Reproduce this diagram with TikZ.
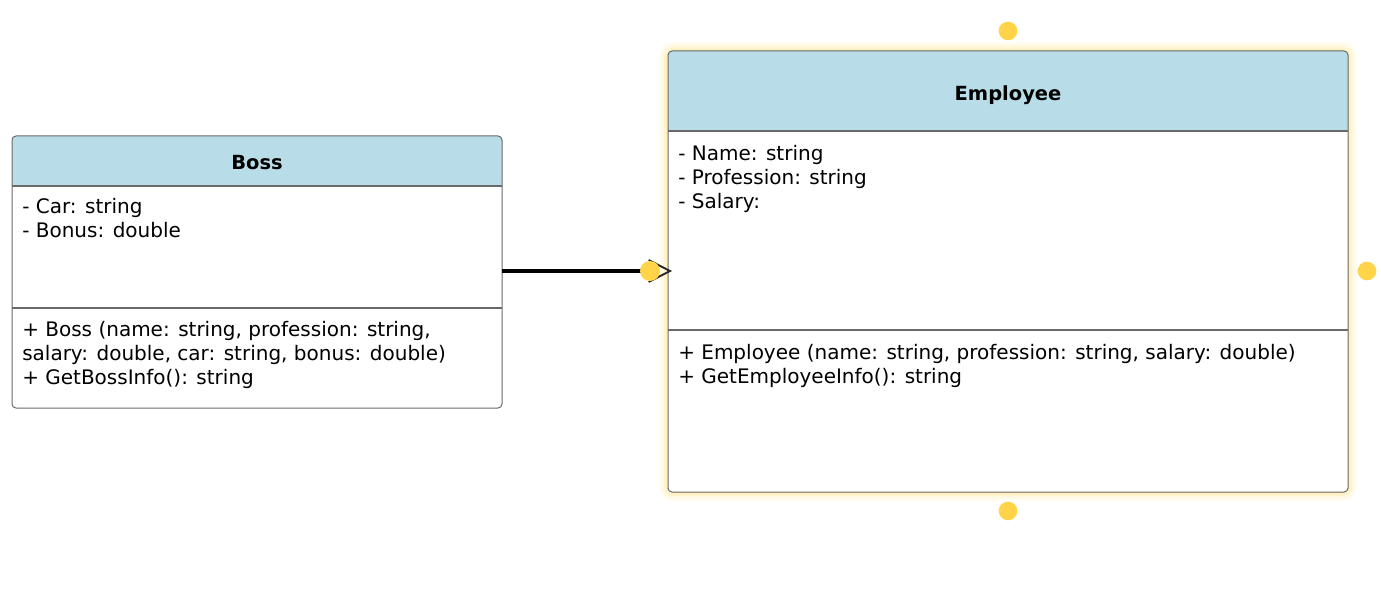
\documentclass[tikz,border=0pt]{standalone}
\usepackage{fontspec}
\setmainfont{DejaVu Sans}
\usetikzlibrary{arrows.meta,positioning}
\definecolor{headblue}{RGB}{184,221,232}
\definecolor{handleyellow}{RGB}{255,212,72}
\definecolor{glowyellow}{RGB}{255,226,130}
\definecolor{boxgray}{RGB}{105,105,105}

\tikzset{
    classbox/.style={fill=white, inner sep=0pt, outer sep=0pt, anchor=north west},
    classline/.style={draw=boxgray, line width=0.75pt, rounded corners=3pt},
    sepline/.style={draw=boxgray, line width=1.1pt},
    members/.style={font=\fontsize{15}{18}\selectfont, align=left, anchor=north west, inner sep=0pt},
    classname/.style={font=\bfseries\fontsize{14.6}{18}\selectfont, inner sep=0pt},
    handle/.style={fill=handleyellow},
    inherit/.style={line width=2.4pt},
    chevron/.style={line width=1.4pt, draw=black!85}
}

\begin{document}
\begin{tikzpicture}[x=0.75pt, y=-0.75pt]
    \useasboundingbox (0,0) rectangle (1381,613);

    % glow round the selected class
    \foreach \w/\o in {14/0.10, 10/0.14, 6/0.20, 3/0.30}
        \draw[glowyellow, line width=\w pt, opacity=\o, rounded corners=4pt] (668,51) rectangle (1348,492);

    % Boss
    \node[classbox, minimum width=367.5pt, minimum height=204pt] (boss) at (12,136) {};
    \fill[headblue, rounded corners=3pt] (boss.north west) rectangle ([yshift=-37.5pt]boss.north east);
    \fill[headblue] ([yshift=-10pt]boss.north west) rectangle ([yshift=-37.5pt]boss.north east);
    \draw[sepline] ([yshift=-37.5pt]boss.north west) -- ([yshift=-37.5pt]boss.north east);
    \draw[sepline] ([yshift=-129pt]boss.north west) -- ([yshift=-129pt]boss.north east);
    \draw[classline] (boss.north west) rectangle (boss.south east);
    \node[classname] (bosstitle) at (257,163) {Boss};
    \node[members] (bossattr) at (22,198.5) {- Car: string\\- Bonus: double};
    \node[members] (bossops) at (22,321) {+ Boss (name: string, profession: string,\\salary: double, car: string, bonus: double)\\+ GetBossInfo(): string};

    % Employee
    \node[classbox, minimum width=510pt, minimum height=330.75pt] (emp) at (668,51) {};
    \fill[headblue, rounded corners=3pt] (emp.north west) rectangle ([yshift=-60pt]emp.north east);
    \fill[headblue] ([yshift=-10pt]emp.north west) rectangle ([yshift=-60pt]emp.north east);
    \draw[sepline] ([yshift=-60pt]emp.north west) -- ([yshift=-60pt]emp.north east);
    \draw[sepline] ([yshift=-209.25pt]emp.north west) -- ([yshift=-209.25pt]emp.north east);
    \draw[classline] (emp.north west) rectangle (emp.south east);
    \node[classname] (emptitle) at (1008,95) {Employee};
    \node[members] (empattr) at (678,145.5) {- Name: string\\- Profession: string\\- Salary:};
    \node[members] (empops) at (678,344.5) {+ Employee (name: string, profession: string, salary: double)\\+ GetEmployeeInfo(): string};

    % inheritance
    \coordinate (tip) at ([xshift=1.5pt]emp.west |- 0,271);
    \coordinate (lineend) at (650,271);
    \draw[inherit] (boss.east |- 0,271) -- (lineend);
    \draw[chevron] ([xshift=-16pt, yshift=8.25pt]tip) -- (tip) -- ([xshift=-16pt, yshift=-8.25pt]tip);

    % handles
    \fill[handle] (lineend) circle[radius=7.5pt];
    \fill[handle] ([yshift=15pt]emp.north) circle[radius=7pt];
    \fill[handle] ([xshift=14.25pt]emp.east |- 0,271) circle[radius=7pt];
    \fill[handle] ([yshift=-14.25pt]emp.south) circle[radius=7pt];
\end{tikzpicture}
\end{document}
